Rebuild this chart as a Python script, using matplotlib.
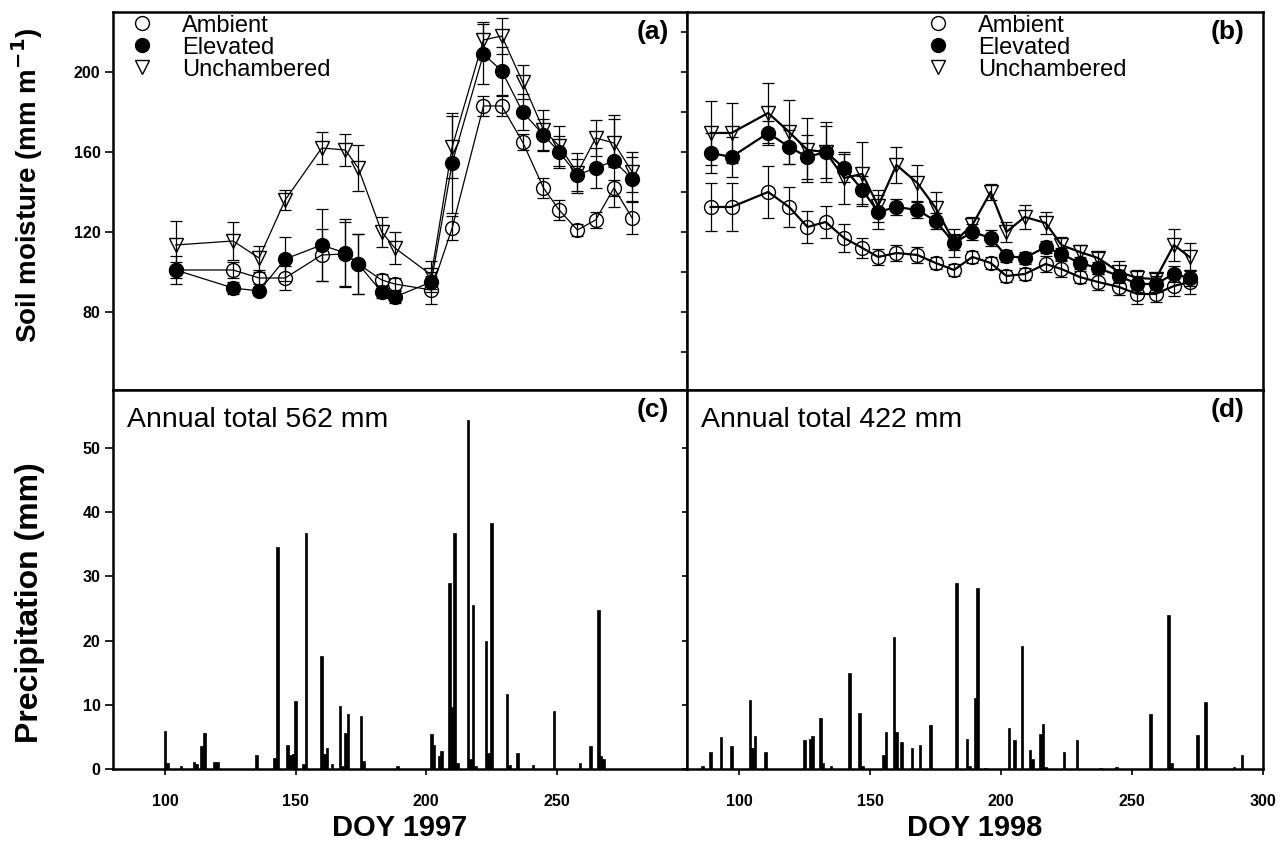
import matplotlib
matplotlib.use("Agg")
import matplotlib.pyplot as plt
from matplotlib.lines import Line2D

plt.rcParams["font.family"] = ["Liberation Sans", "DejaVu Sans"]

# soil moisture, 1997
doy_97 = [104, 126, 136, 146, 160, 169, 174, 183, 188, 202, 210, 222, 229, 237, 245, 251, 258, 265, 272, 279]
ambient_97 = [101, 101, 97, 97, 108.5, 109, 104, 96, 94, 91, 122, 183, 183, 165, 142, 131, 121, 126, 142, 127]
ambient_97_err = [4, 4, 3, 6, 13, 16, 15, 3, 3, 7, 6, 5, 5, 4, 5, 5, 3, 4, 4, 8]
elevated_97 = [101, 92, 90.5, 106.5, 113.5, 109.5, 104, 90, 87.5, 95, 154.5, 209, 200.5, 180, 168.5, 160, 148.5, 152, 155.5, 146.5]
elevated_97_err = [7, 3, 2, 11, 18, 17, 15, 3, 3, 5, 25, 15, 12, 9, 8, 8, 8, 10, 23, 11]
unch_97 = [113.5, 115.5, 107, 136, 162, 161, 152, 120, 112, 98.5, 162.5, 216, 218, 195, 171, 163, 149.5, 167, 164.5, 150]
unch_97_err = [12, 9.5, 6, 5, 8, 8, 11.5, 7.5, 8, 7, 15.5, 9, 9, 8.5, 10, 10, 10, 9, 12, 10]

# soil moisture, 1998
doy_98 = [89, 97, 111, 119, 126, 133, 140, 147, 153, 160, 168, 175, 182, 189, 196, 202, 209, 217, 223, 230, 237, 245, 252, 259, 266, 272]
ambient_98 = [132.5, 132.5, 140, 132.5, 122.5, 125, 117, 112, 107.5, 109.5, 108.5, 104.5, 101, 107.5, 104.5, 98, 99, 104, 101.5, 97.5, 95, 92.5, 89, 89, 93, 95]
ambient_98_err = [12, 12, 13, 10, 8, 8, 7, 5, 4, 4, 4, 3, 3, 3, 3, 3, 3, 4, 4, 3, 4, 4, 5, 4, 5, 6]
elevated_98 = [159.5, 157.5, 169.5, 162.5, 157.5, 160, 152, 141, 130, 132.5, 131, 125.5, 114.5, 120, 117, 108, 107, 112.5, 109, 104.5, 102, 98, 94, 94, 99, 97]
elevated_98_err = [10, 10, 6, 8.5, 11, 15, 7, 7, 8.5, 4, 4, 4, 7, 4, 4, 3, 3, 3, 3, 3, 3, 3, 4, 4, 4, 4]
unch_98 = [169.5, 169.5, 179.5, 170, 161, 160, 147, 149, 133, 153.5, 144.5, 132, 115, 123.5, 140, 120, 127.5, 124.5, 113.5, 110, 107, 100, 97, 96.5, 113.5, 107.5]
unch_98_err = [16, 15, 15, 16, 16, 13, 13, 16, 8, 9, 9, 8, 4, 4, 4, 5, 6, 5.5, 4, 3.5, 3, 5.5, 4, 3, 8, 7]

# daily precipitation
rain_doy_97 = [100, 101, 106, 111, 112, 114, 115, 119, 120, 135, 142, 143, 147, 148, 149, 150, 153, 154,
               160, 161, 162, 164, 167, 168, 169, 170, 175, 176, 189, 202, 203, 205, 206, 209, 210, 211,
               212, 216, 217, 218, 219, 223, 224, 225, 231, 232, 235, 241, 249, 259, 263, 266, 267, 268]
rain_mm_97 = [5.9, 1.0, 0.4, 1.1, 0.8, 3.6, 5.6, 1.1, 1.1, 2.2, 1.7, 34.6, 3.7, 2.2, 2.4, 10.6, 0.8, 36.8,
              17.6, 2.4, 3.3, 0.8, 9.8, 0.5, 5.6, 8.5, 8.3, 1.3, 0.5, 5.4, 3.8, 2.0, 2.8, 28.9, 9.6, 36.8,
              1.0, 54.3, 1.5, 25.6, 0.5, 20.0, 2.5, 38.3, 11.7, 0.6, 2.5, 0.6, 9.1, 1.0, 3.5, 24.8, 2.0, 1.5]
rain_doy_98 = [86, 89, 93, 97, 104, 105, 106, 110, 125, 127, 128, 131, 132, 135, 142, 146, 147, 155, 156,
               159, 160, 162, 166, 169, 173, 183, 187, 188, 190, 191, 194, 203, 205, 208, 211, 212, 215,
               216, 217, 224, 229, 238, 244, 257, 264, 265, 275, 278, 289, 292]
rain_mm_98 = [0.4, 2.7, 5.0, 3.5, 10.7, 3.2, 5.2, 2.7, 4.5, 4.7, 5.2, 8.0, 0.9, 0.4, 15.0, 8.7, 0.4, 2.2, 5.8,
              20.6, 5.8, 4.2, 3.2, 3.8, 6.8, 28.9, 4.6, 0.4, 11.1, 28.2, 0.1, 6.4, 4.5, 19.1, 3.0, 1.5, 5.5,
              7.0, 0.3, 2.7, 4.5, 0.1, 0.3, 8.6, 23.9, 1.0, 5.3, 10.4, 0.3, 2.1]

annual_totals = ["Annual total 562 mm", "Annual total 422 mm"]
series_names = ["Ambient", "Elevated", "Unchambered"]

fig = plt.figure(figsize=(12.81, 8.48), dpi=100)
ax_a = fig.add_axes([0.0882, 0.5401, 0.4481, 0.4458])
ax_b = fig.add_axes([0.5363, 0.5401, 0.4496, 0.4458])
ax_c = fig.add_axes([0.0882, 0.0932, 0.4481, 0.4469])
ax_d = fig.add_axes([0.5363, 0.0932, 0.4496, 0.4469])

styles = [
    dict(marker="o", mfc="none", mec="black"),
    dict(marker="o", mfc="black", mec="black"),
    dict(marker="v", mfc="none", mec="black"),
]


def soil_panel(ax, doy, series, errs, lw):
    for vals, err, st in zip(series, errs, styles):
        ax.errorbar(doy, vals, yerr=err, fmt="none", ecolor="black",
                    elinewidth=0.9, capsize=4.5, capthick=0.9, zorder=2)
        ax.plot(doy, vals, color="black", lw=lw, ms=10, mew=1.0, zorder=3, **st)
    ax.set_xlim(80, 300)
    ax.set_ylim(41, 230)
    ax.set_xticks([])


soil_panel(ax_a, doy_97, [ambient_97, elevated_97, unch_97],
           [ambient_97_err, elevated_97_err, unch_97_err], 0.9)
soil_panel(ax_b, doy_98, [ambient_98, elevated_98, unch_98],
           [ambient_98_err, elevated_98_err, unch_98_err], 1.6)

ax_a.set_yticks([80, 120, 160, 200])
ax_b.set_yticks(range(60, 221, 20))
ax_b.tick_params(axis="y", labelleft=False, length=4, width=1.2)

for ax, doy, mm in [(ax_c, rain_doy_97, rain_mm_97), (ax_d, rain_doy_98, rain_mm_98)]:
    ax.bar(doy, mm, width=1.0, color="black", edgecolor="black", linewidth=0.5)
    ax.set_xlim(80, 300)
    ax.set_ylim(0, 59)
    ax.set_yticks(range(0, 51, 10))

ax_c.set_xticks([100, 150, 200, 250])
ax_d.set_xticks([100, 150, 200, 250, 300])
ax_d.tick_params(axis="y", labelleft=False)

for ax in [ax_a, ax_b, ax_c, ax_d]:
    for s in ax.spines.values():
        s.set_linewidth(1.8)
    ax.tick_params(direction="out", width=1.2, labelsize=11.5)
    for lab in ax.get_xticklabels() + ax.get_yticklabels():
        lab.set_fontweight("bold")
ax_a.tick_params(axis="y", length=6, pad=3)
ax_c.tick_params(axis="y", length=6, pad=3)
ax_c.tick_params(axis="x", length=4, pad=14)
ax_d.tick_params(axis="x", length=4, pad=14)

# legends
handles = [Line2D([], [], linestyle="none", color="black", ms=10, mew=1.0, **st) for st in styles]
for ax, x0 in [(ax_a, 0.0296), (ax_b, 0.415)]:
    ax.legend(handles, series_names, loc="upper left", bbox_to_anchor=(x0, 0.993),
              frameon=False, fontsize=17, handlelength=1.0, handletextpad=1.2,
              labelspacing=0.0, borderpad=0, borderaxespad=0, numpoints=1)

for ax, lab in [(ax_a, "(a)"), (ax_b, "(b)"), (ax_c, "(c)"), (ax_d, "(d)")]:
    ax.text(0.968, 0.978, lab, transform=ax.transAxes, ha="right", va="top",
            fontsize=19, fontweight="bold")

for ax, txt in [(ax_c, annual_totals[0]), (ax_d, annual_totals[1])]:
    ax.text(0.024, 0.955, txt, transform=ax.transAxes, ha="left", va="top", fontsize=20.5)

ax_a.set_ylabel("Soil moisture (mm m$^{\\mathbf{-1}}$)", fontsize=20, fontweight="bold")
ax_a.yaxis.set_label_coords(-0.118, 0.54)
ax_c.set_ylabel("Precipitation (mm)", fontsize=23, fontweight="bold")
ax_c.yaxis.set_label_coords(-0.118, 0.44)
ax_c.set_xlabel("DOY 1997", fontsize=21, fontweight="bold")
ax_d.set_xlabel("DOY 1998", fontsize=21, fontweight="bold")
ax_c.xaxis.set_label_coords(0.5, -0.12)
ax_d.xaxis.set_label_coords(0.5, -0.12)

fig.savefig("out.png", dpi=100)
